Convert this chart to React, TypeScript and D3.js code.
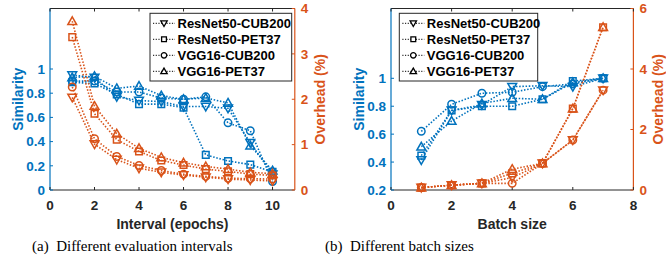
// Two dual-axis line plots: similarity (left axis) and overhead (right axis).

import * as d3 from "d3";

const BLUE = "#0072BD";
const ORANGE = "#D95319";
const DARK = "#262626";

const seriesNames = ["ResNet50-CUB200", "ResNet50-PET37", "VGG16-CUB200", "VGG16-PET37"];
const seriesMarkers = ["down", "square", "circle", "up"];

// (a) evaluation interval
const intervals = [1, 2, 3, 4, 5, 6, 7, 8, 9, 10];
const simInterval = [
  [0.95, 0.93, 0.77, 0.74, 0.73, 0.69, 0.69, 0.675, 0.39, 0.13],
  [0.89, 0.88, 0.79, 0.71, 0.71, 0.68, 0.29, 0.24, 0.21, 0.15],
  [0.9, 0.9, 0.81, 0.81, 0.76, 0.75, 0.77, 0.555, 0.49, 0.07],
  [0.93, 0.94, 0.84, 0.86, 0.78, 0.75, 0.76, 0.72, 0.367, 0.16],
];
const ovhInterval = [
  [2.04, 1.01, 0.67, 0.48, 0.39, 0.33, 0.28, 0.24, 0.22, 0.2],
  [3.37, 1.68, 1.11, 0.85, 0.65, 0.55, 0.46, 0.41, 0.35, 0.32],
  [2.27, 1.13, 0.74, 0.54, 0.43, 0.35, 0.3, 0.26, 0.25, 0.24],
  [3.72, 1.85, 1.24, 0.92, 0.72, 0.6, 0.52, 0.46, 0.39, 0.36],
];

// (b) batch size
const batches = [1, 2, 3, 4, 5, 6, 7];
const simBatch = [
  [0.415, 0.77, 0.81, 0.94, 0.947, 0.94, 1.0],
  [0.446, 0.77, 0.8, 0.8, 0.85, 0.98, 1.0],
  [0.62, 0.814, 0.893, 0.9, 0.94, 0.96, 1.0],
  [0.51, 0.694, 0.82, 0.857, 0.85, 0.97, 1.0],
];
const ovhBatch = [
  [0.08, 0.16, 0.22, 0.41, 0.88, 1.65, 3.3],
  [0.08, 0.16, 0.22, 0.55, 0.88, 2.69, 5.38],
  [0.08, 0.16, 0.22, 0.22, 0.88, 1.65, 3.3],
  [0.08, 0.16, 0.22, 0.69, 0.88, 2.69, 5.38],
];

const FONT = "'Liberation Sans', Arial, sans-serif";

function markerPath(type: string, r: number) {
  if (type === "up") return `M0,${-r}L${r},${r * 0.75}L${-r},${r * 0.75}Z`;
  if (type === "down") return `M0,${r}L${r},${-r * 0.75}L${-r},${-r * 0.75}Z`;
  if (type === "square") {
    const s = r * 0.75;
    return `M${-s},${-s}H${s}V${s}H${-s}Z`;
  }
  const c = r * 0.85;
  return `M${-c},0A${c},${c} 0 1,0 ${c},0A${c},${c} 0 1,0 ${-c},0Z`;
}

interface PanelProps {
  x0: number;
  x1: number;
  xs: number[];
  xDomain: number[];
  xTicks: number[];
  simDomain: number[];
  simTicks: number[];
  ovhDomain: number[];
  ovhTicks: number[];
  sim: number[][];
  ovh: number[][];
  xLabel: string;
  legendX: number;
  legendW: number;
}

function Panel(p: PanelProps) {
  const top = 8.5;
  const bottom = 190;
  const sx = d3.scaleLinear(p.xDomain, [p.x0, p.x1]);
  const sl = d3.scaleLinear(p.simDomain, [bottom, top]);
  const sr = d3.scaleLinear(p.ovhDomain, [bottom, top]);
  const midY = (top + bottom) / 2;

  const lineL = d3.line<number>((d, i) => sx(p.xs[i]), (d) => sl(d));
  const lineR = d3.line<number>((d, i) => sx(p.xs[i]), (d) => sr(d));

  const drawSeries = (data: number[][], line: any, yScale: any, color: string) =>
    data.map((vals, k) => (
      <g key={k}>
        <path d={line(vals)} fill="none" stroke={color} strokeWidth={1.6} strokeDasharray="1.5 1.7" />
        {vals.map((v, i) => (
          <path
            key={i}
            d={markerPath(seriesMarkers[k], 4.4)}
            transform={`translate(${sx(p.xs[i])},${yScale(v)})`}
            fill="none"
            stroke={color}
            strokeWidth={1.5}
          />
        ))}
      </g>
    ));

  const legendTop = 13.3;
  const rowGap = 16;

  return (
    <g fontFamily={FONT} fontWeight="bold">
      {/* frame */}
      <line x1={p.x0} x2={p.x1} y1={top} y2={top} stroke={DARK} strokeWidth={1} />
      <line x1={p.x0} x2={p.x1} y1={bottom} y2={bottom} stroke={DARK} strokeWidth={1} />
      <line x1={p.x0} x2={p.x0} y1={top} y2={bottom} stroke={BLUE} strokeWidth={1.2} />
      <line x1={p.x1} x2={p.x1} y1={top} y2={bottom} stroke={ORANGE} strokeWidth={1.2} />

      {p.xTicks.map((t) => (
        <g key={t}>
          <line x1={sx(t)} x2={sx(t)} y1={bottom} y2={bottom - 3} stroke={DARK} />
          <line x1={sx(t)} x2={sx(t)} y1={top} y2={top + 3} stroke={DARK} />
          <text x={sx(t)} y={bottom + 20} textAnchor="middle" fontSize={13.5} fill={DARK}>
            {t}
          </text>
        </g>
      ))}
      {p.simTicks.map((t) => (
        <g key={t}>
          <line x1={p.x0} x2={p.x0 + 3} y1={sl(t)} y2={sl(t)} stroke={BLUE} />
          <text x={p.x0 - 5} y={sl(t)} dy="0.35em" textAnchor="end" fontSize={13.5} fill={BLUE}>
            {String(t)}
          </text>
        </g>
      ))}
      {p.ovhTicks.map((t) => (
        <g key={t}>
          <line x1={p.x1} x2={p.x1 - 3} y1={sr(t)} y2={sr(t)} stroke={ORANGE} />
          <text x={p.x1 + 6} y={sr(t)} dy="0.35em" textAnchor="start" fontSize={13.5} fill={ORANGE}>
            {String(t)}
          </text>
        </g>
      ))}

      <text x={(p.x0 + p.x1) / 2} y={229} textAnchor="middle" fontSize={14} fill={DARK}>
        {p.xLabel}
      </text>
      <text
        transform={`translate(${p.x0 - 32},${midY}) rotate(-90)`}
        textAnchor="middle"
        fontSize={14}
        fill={BLUE}
        dy="0.35em"
      >
        Similarity
      </text>
      <text
        transform={`translate(${p.x1 + 25},${midY}) rotate(-90)`}
        textAnchor="middle"
        fontSize={14}
        fill={ORANGE}
        dy="0.35em"
      >
        Overhead (%)
      </text>

      {drawSeries(p.sim, lineL, sl, BLUE)}
      {drawSeries(p.ovh, lineR, sr, ORANGE)}

      {/* legend */}
      <rect x={p.legendX} y={legendTop} width={p.legendW} height={67.7} fill="white" stroke={DARK} strokeWidth={1} />
      {seriesNames.map((name, k) => {
        const y = legendTop + 10 + k * rowGap;
        return (
          <g key={name}>
            <line
              x1={p.legendX + 3}
              x2={p.legendX + 25}
              y1={y}
              y2={y}
              stroke="black"
              strokeWidth={1}
              strokeDasharray="1.2 1.5"
            />
            <path
              d={markerPath(seriesMarkers[k], 3.2)}
              transform={`translate(${p.legendX + 14},${y})`}
              fill="white"
              stroke="black"
              strokeWidth={1.3}
            />
            <text x={p.legendX + 27.5} y={y} dy="0.35em" fontSize={13} fill="black">
              {name}
            </text>
          </g>
        );
      })}
    </g>
  );
}

export default function App() {
  return (
    <svg width={666} height={273} style={{ position: "absolute", left: 0, top: 0, background: "white" }}>
      <Panel
        x0={50}
        x1={294.8}
        xs={intervals}
        xDomain={[0, 11]}
        xTicks={[0, 2, 4, 6, 8, 10]}
        simDomain={[0, 1.5]}
        simTicks={[0, 0.2, 0.4, 0.6, 0.8, 1]}
        ovhDomain={[0, 4]}
        ovhTicks={[0, 1, 2, 3, 4]}
        sim={simInterval}
        ovh={ovhInterval}
        xLabel="Interval (epochs)"
        legendX={150}
        legendW={141.7}
      />
      <Panel
        x0={391}
        x1={633.4}
        xs={batches}
        xDomain={[0, 8]}
        xTicks={[0, 2, 4, 6, 8]}
        simDomain={[0.2, 1.5]}
        simTicks={[0.2, 0.4, 0.6, 0.8, 1]}
        ovhDomain={[0, 6]}
        ovhTicks={[0, 2, 4, 6]}
        sim={simBatch}
        ovh={ovhBatch}
        xLabel="Batch size"
        legendX={399.3}
        legendW={138.4}
      />
      <g fontFamily="'Liberation Serif', 'Times New Roman', serif" fontSize={15} fill="black">
        <text x={32} y={251}>(a)&#160; Different evaluation intervals</text>
        <text x={325} y={251}>(b)&#160; Different batch sizes</text>
      </g>
    </svg>
  );
}
